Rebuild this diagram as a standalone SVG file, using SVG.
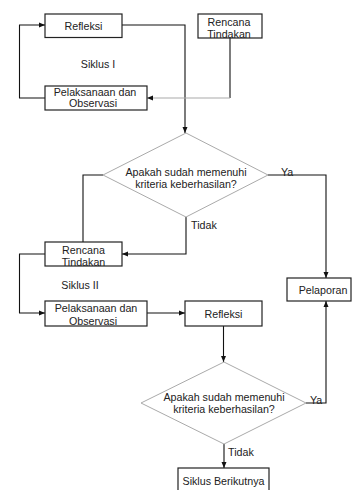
<svg xmlns="http://www.w3.org/2000/svg" width="354" height="490" viewBox="0 0 354 490">
<style>
.box{fill:#fff;stroke:#222;stroke-width:1.2}
.dia{fill:#fff;stroke:#aaa;stroke-width:1}
.ln{fill:none;stroke:#111;stroke-width:1.1}
.gl{fill:none;stroke:#aaa;stroke-width:1.1}
text{font-family:"Liberation Sans",Arial,sans-serif;font-size:10.7px;fill:#222;text-anchor:middle}
.l{text-anchor:start}
</style>
<defs>
<marker id="ah" viewBox="0 0 6 6" refX="6" refY="3" markerWidth="6" markerHeight="6" markerUnits="userSpaceOnUse" orient="auto">
<path d="M0,0.5 L6,3 L0,5.5 Z" fill="#111"/>
</marker>
</defs>
<g id="connectors">
<path class="ln" d="M45,98 H19.5 V25 H45" marker-end="url(#ah)"/>
<path class="ln" d="M122,25 H185 V133" marker-end="url(#ah)"/>
<path class="ln" d="M230,37 V98"/>
<path class="gl" d="M230,98 H147" marker-end="url(#ah)"/>
<path class="ln" d="M103,175 H83 V242"/>
<path class="ln" d="M186,217 V254 H122" marker-end="url(#ah)"/>
<path class="ln" d="M268,175 H326 V278" marker-end="url(#ah)"/>
<path class="ln" d="M45,254 H19.5 V313 H45" marker-end="url(#ah)"/>
<path class="ln" d="M147,313 H185" marker-end="url(#ah)"/>
<path class="ln" d="M223.5,326 V362" marker-end="url(#ah)"/>
<path class="ln" d="M306,403 H326 V301" marker-end="url(#ah)"/>
<path class="ln" d="M224,444 V468" marker-end="url(#ah)"/>
</g>
<g id="refleksi1"><rect class="box" x="45" y="14" width="77" height="23.5"/><text x="83.5" y="29.5">Refleksi</text></g>
<g id="rencana1"><rect class="box" x="198" y="14" width="64" height="24"/><text x="229" y="26">Rencana</text><text x="229" y="37.5">Tindakan</text></g>
<g id="siklus1"><text x="98" y="68">Siklus I</text></g>
<g id="pelaksanaan1"><rect class="box" x="45" y="86" width="102" height="24"/><text x="95" y="96">Pelaksanaan dan</text><text x="93" y="107">Observasi</text></g>
<g id="diamond1"><polygon class="dia" points="186,133 268,175 186,217 103,175"/><text x="186" y="176">Apakah sudah memenuhi</text><text x="186" y="188">kriteria keberhasilan?</text></g>
<g id="ya1"><text class="l" x="281" y="176">Ya</text></g>
<g id="tidak1"><text class="l" x="191" y="229">Tidak</text></g>
<g id="rencana2"><rect class="box" x="45" y="242" width="77" height="24"/><text x="83.5" y="254">Rencana</text><text x="83.5" y="266">Tindakan</text></g>
<g id="siklus2"><text x="80" y="289">Siklus II</text></g>
<g id="pelaksanaan2"><rect class="box" x="45" y="301" width="102" height="25"/><text x="96" y="312">Pelaksanaan dan</text><text x="93" y="324.5">Observasi</text></g>
<g id="refleksi2"><rect class="box" x="185" y="301" width="77" height="25"/><text x="223.5" y="317.5">Refleksi</text></g>
<g id="pelaporan"><rect class="box" x="287" y="278" width="64" height="23"/><text x="323" y="293.5">Pelaporan</text></g>
<g id="diamond2"><polygon class="dia" points="224,362 306,403 224,444 141,403"/><text x="224" y="401">Apakah sudah memenuhi</text><text x="224" y="413">kriteria keberhasilan?</text></g>
<g id="ya2"><text class="l" x="310" y="404">Ya</text></g>
<g id="tidak2"><text class="l" x="228" y="456">Tidak</text></g>
<g id="siklusBerikutnya"><rect class="box" x="178" y="468" width="91" height="26"/><text x="223.5" y="485">Siklus Berikutnya</text></g>
</svg>
